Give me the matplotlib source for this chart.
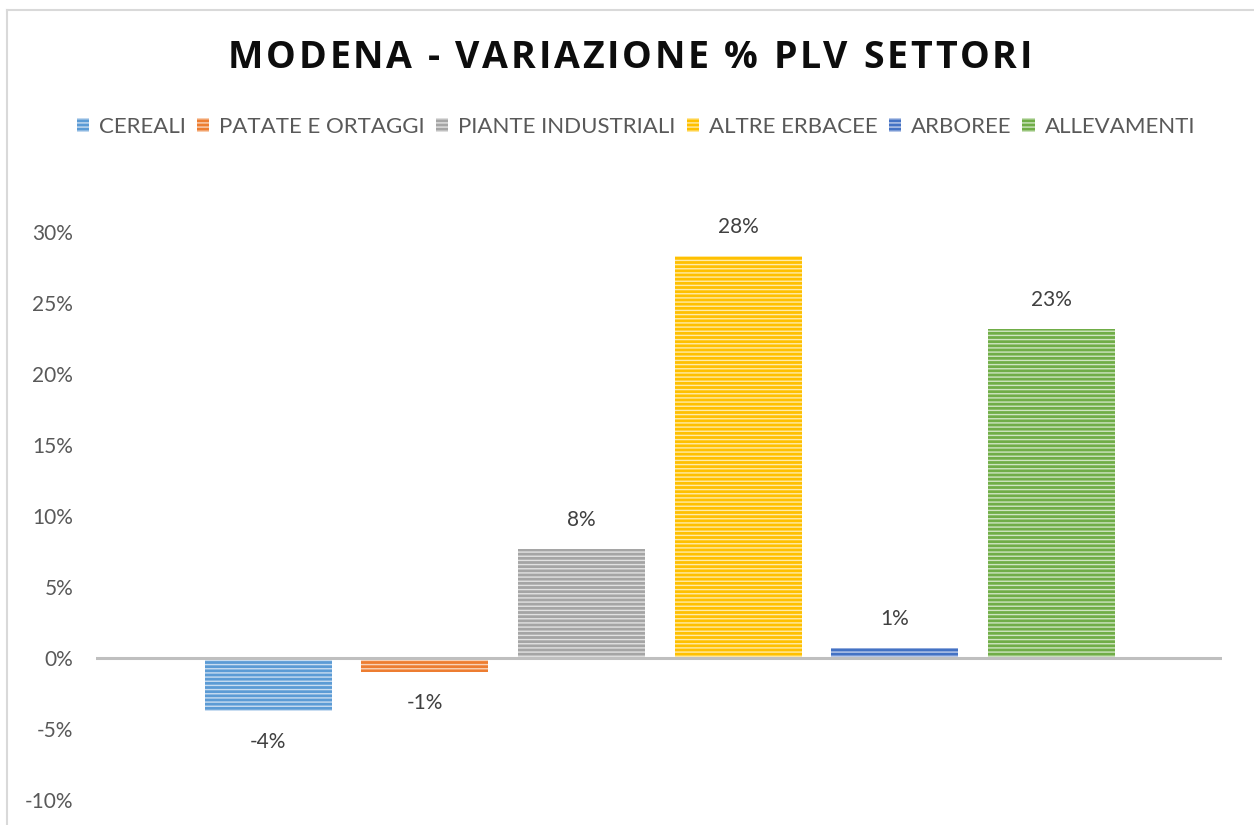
import matplotlib
matplotlib.use("Agg")
import matplotlib.pyplot as plt
from matplotlib.patches import Patch
from matplotlib.lines import Line2D
from matplotlib.ticker import FuncFormatter

title = "MODENA - VARIAZIONE % PLV SETTORI"
categories = ["CEREALI", "PATATE E ORTAGGI", "PIANTE INDUSTRIALI", "ALTRE ERBACEE", "ARBOREE", "ALLEVAMENTI"]
values = [-3.7, -1.0, 7.7, 28.3, 0.7, 23.2]
value_labels = ["-4%", "-1%", "8%", "28%", "1%", "23%"]
colors = ["#5B9BD5", "#ED7D31", "#A5A5A5", "#FFC000", "#4472C4", "#70AD47"]
light = ["#C9DDF1", "#F9D3B8", "#E2E2E2", "#FFEBA8", "#BFCDEB", "#CFE5C1"]
yticks = [-10, -5, 0, 5, 10, 15, 20, 25, 30]

W, H = 1254, 825
plt.rcParams['font.family'] = ['Lato', 'DejaVu Sans']
plt.rcParams['hatch.linewidth'] = 1.0
fig = plt.figure(figsize=(W / 100, H / 100), dpi=100)
ax = fig.add_axes([96 / W, (H - 800) / H, (1222 - 96) / W, (800 - 232) / H])

xs = list(range(len(categories)))
for x, v, c, lc, lab in zip(xs, values, colors, light, categories):
    ax.bar(x, v, width=0.81, color=c, edgecolor=lc, linewidth=0, hatch="----", label=lab, zorder=2)

for x, v, t in zip(xs, values, value_labels):
    if v >= 0:
        ax.annotate(t, (x, v), xytext=(0, 19), textcoords="offset pixels", ha="center", va="bottom",
                    fontsize=15, color="#404040")
    else:
        ax.annotate(t, (x, v), xytext=(0, -21), textcoords="offset pixels", ha="center", va="top",
                    fontsize=15, color="#404040")

ax.axhline(0, color="#BFBFBF", linewidth=2.2, zorder=3)
ax.set_xlim(-1.1, 6.09)
ax.set_ylim(-10, 30)
ax.set_yticks(yticks)
ax.yaxis.set_major_formatter(FuncFormatter(lambda v, p: f"{v:.0f}%"))
ax.tick_params(axis="y", length=0, pad=16.5, labelsize=15, labelcolor="#595959")
ax.set_xticks([])
for s in ax.spines.values():
    s.set_visible(False)

handles = [Patch(facecolor=c, edgecolor=lc, linewidth=0, hatch="----") for c, lc in zip(colors, light)]
fig.legend(handles, categories, loc="center", bbox_to_anchor=(636 / W, 1 - 127 / H), ncol=6,
           frameon=False, fontsize=16, labelcolor="#595959", handlelength=0.55, handleheight=0.55,
           handletextpad=0.45, columnspacing=0.5)

# title with letter spacing
fig.canvas.draw()
renderer = fig.canvas.get_renderer()
tprops = dict(fontsize=27, fontweight="bold", color="#0D0D0D", family=["Open Sans", "DejaVu Sans"])
widths = []
for ch in title:
    t = fig.text(0, 0, ch if ch != " " else "\u00a0", **tprops)
    widths.append(t.get_window_extent(renderer).width)
    t.remove()
target_left, target_right = 228, 1032
natural = sum(widths)
gap = (target_right - target_left - natural) / (len(title) - 1)
xpos = target_left
for ch, w in zip(title, widths):
    if ch != " ":
        fig.text(xpos / W, 1 - 58 / H, ch, ha="left", va="center", **tprops)
    xpos += w + gap

fig.add_artist(Line2D([7 / W, 1.0], [1 - 10 / H, 1 - 10 / H], color="#D9D9D9", linewidth=1.5))
fig.add_artist(Line2D([7 / W, 7 / W], [0, 1 - 10 / H], color="#D9D9D9", linewidth=1.5))

fig.savefig("out.png", dpi=100, facecolor="white")
